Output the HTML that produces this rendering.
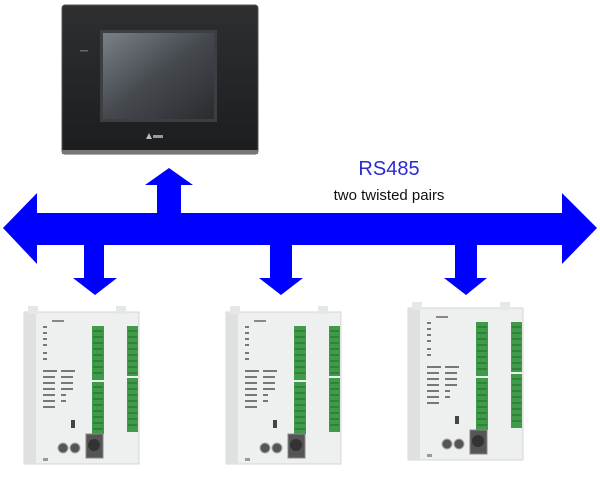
<!DOCTYPE html>
<html><head><meta charset="utf-8"><style>
html,body{margin:0;padding:0;background:#fff;width:600px;height:492px;overflow:hidden}
</style></head><body>
<svg width="600" height="492" viewBox="0 0 600 492" xmlns="http://www.w3.org/2000/svg">
<defs>
<linearGradient id="scr" x1="0" y1="0" x2="1" y2="1">
<stop offset="0" stop-color="#7a8088"/><stop offset="0.5" stop-color="#45494e"/><stop offset="1" stop-color="#2a2c2f"/>
</linearGradient>
<linearGradient id="bez" x1="0" y1="0" x2="0" y2="1">
<stop offset="0" stop-color="#2e2f31"/><stop offset="1" stop-color="#1c1d1f"/>
</linearGradient>
<g id="plc">
<rect x="0" y="0" width="115" height="152" fill="#eef0ef" stroke="#d4d6d5"/>
<rect x="0" y="0" width="12" height="152" fill="#dfe1e0"/>
<rect x="4" y="-6" width="10" height="8" fill="#e6e8e7"/>
<rect x="92" y="-6" width="10" height="8" fill="#e6e8e7"/>
<rect x="28" y="8" width="12" height="2" fill="#888"/>
<g fill="#777"><rect x="19" y="14" width="4" height="2"/><rect x="19" y="20" width="4" height="2"/><rect x="19" y="26" width="4" height="2"/><rect x="19" y="32" width="4" height="2"/><rect x="19" y="40" width="4" height="2"/><rect x="19" y="46" width="4" height="2"/>
<rect x="19" y="58" width="14" height="2"/><rect x="37" y="58" width="14" height="2"/>
<rect x="19" y="64" width="12" height="2"/><rect x="19" y="70" width="12" height="2"/><rect x="19" y="76" width="12" height="2"/><rect x="19" y="82" width="12" height="2"/><rect x="19" y="88" width="12" height="2"/><rect x="19" y="94" width="12" height="2"/>
<rect x="37" y="64" width="12" height="2"/><rect x="37" y="70" width="12" height="2"/><rect x="37" y="76" width="12" height="2"/><rect x="37" y="82" width="5" height="2"/><rect x="37" y="88" width="5" height="2"/></g>
<rect x="68" y="14" width="12" height="54" fill="#3f9a4a"/>
<rect x="68" y="70" width="12" height="52" fill="#3f9a4a"/>
<rect x="103" y="14" width="11" height="50" fill="#3f9a4a"/>
<rect x="103" y="66" width="11" height="54" fill="#3f9a4a"/>
<g stroke="#1f6a2a" stroke-width="1">
<path d="M69 19H79M69 25H79M69 31H79M69 37H79M69 43H79M69 49H79M69 55H79M69 61H79M69 75H79M69 81H79M69 87H79M69 93H79M69 99H79M69 105H79M69 111H79M69 117H79"/>
<path d="M104 19H113M104 25H113M104 31H113M104 37H113M104 43H113M104 49H113M104 55H113M104 61H113M104 71H113M104 77H113M104 83H113M104 89H113M104 95H113M104 101H113M104 107H113M104 113H113"/>
</g>
<rect x="47" y="108" width="4" height="8" fill="#444"/>
<rect x="62" y="122" width="17" height="24" fill="#555" stroke="#888"/>
<circle cx="70" cy="133" r="6" fill="#333"/>
<circle cx="39" cy="136" r="5" fill="#555" stroke="#aaa"/>
<circle cx="51" cy="136" r="5" fill="#555" stroke="#aaa"/>
<rect x="19" y="146" width="5" height="3" fill="#999"/>
</g>
</defs>
<!-- HMI -->
<rect x="62" y="5" width="196" height="149" rx="3" fill="url(#bez)" stroke="#555"/>
<rect x="62" y="150" width="196" height="4" fill="#777"/>
<rect x="100" y="30" width="117" height="92" fill="#3b3e42"/>
<rect x="103" y="33" width="111" height="86" fill="url(#scr)"/>
<path d="M146 139l3 -6l3 6z" fill="#bbb"/><rect x="153" y="135" width="10" height="3" fill="#999"/>
<rect x="80" y="50" width="8" height="1.5" fill="#666"/>
<!-- Bus -->
<path fill="#0000ff" d="M3 228 L37 193 L37 213 L157 213 L157 185 L145 185 L169 168 L193 185 L181 185 L181 213 L562 213 L562 193 L597 228 L562 264 L562 245 L477 245 L477 278 L487 278 L466 295 L444 278 L455 278 L455 245 L292 245 L292 278 L303 278 L281 295 L259 278 L270 278 L270 245 L104 245 L104 278 L117 278 L95 295 L73 278 L84 278 L84 245 L37 245 L37 264 Z"/>
<text x="389" y="175" font-family="Liberation Sans, sans-serif" font-size="20" fill="#2b2bd0" text-anchor="middle">RS485</text>
<text x="389" y="200" font-family="Liberation Sans, sans-serif" font-size="15" fill="#111" text-anchor="middle">two twisted pairs</text>
<use href="#plc" x="24" y="312"/>
<use href="#plc" x="226" y="312"/>
<use href="#plc" x="408" y="308"/>
</svg>
</body></html>
